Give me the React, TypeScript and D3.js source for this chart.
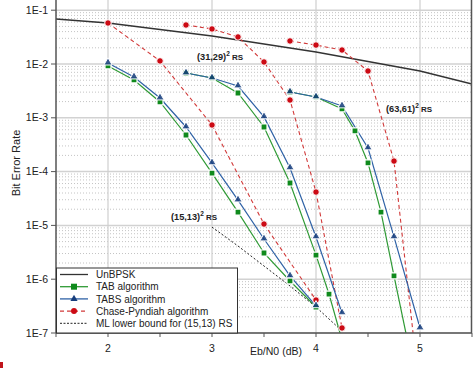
import React, { useEffect, useRef } from 'react';
import * as d3 from 'd3';

// x axis
const xTickValues = [2, 3, 4, 5];
const xMinorTicks = [1.5, 2.5, 3.5, 4.5, 5.5];
// y axis
const yTickValues = [1e-1, 1e-2, 1e-3, 1e-4, 1e-5, 1e-6, 1e-7];
const yTickLabels = ['1E-1', '1E-2', '1E-3', '1E-4', '1E-5', '1E-6', '1E-7'];

// uncoded BPSK
const unbpskX = [1.5, 2, 3, 4, 5, 5.5];
const unbpskY = [6.86e-2, 5.78e-2, 3.31e-2, 1.67e-2, 7.41e-3, 4.25e-3];

// (15,13)^2 RS
const tab15X = [2, 2.25, 2.5, 2.75, 3, 3.25, 3.5, 3.75, 4];
const tab15Y = [9.2e-3, 5.05e-3, 1.97e-3, 4.79e-4, 9.4e-5, 1.77e-5, 3.07e-6, 9.27e-7, 3.04e-7];
const tabs15X = [2, 2.25, 2.5, 2.75, 3, 3.25, 3.5, 3.75, 4];
const tabs15Y = [1.04e-2, 5.73e-3, 2.33e-3, 6.75e-4, 1.45e-4, 2.96e-5, 5.58e-6, 1.15e-6, 3.2e-7];
const chase15X = [2, 2.5, 3, 3.5, 4];
const chase15Y = [5.78e-2, 1.14e-2, 7.35e-4, 1.06e-5, 4.1e-7];
const mlX = [3, 3.25, 3.5, 3.75, 4, 4.25];
const mlY = [9.3e-6, 4.14e-6, 1.76e-6, 7.48e-7, 3.04e-7, 1.09e-7];

// (31,29)^2 RS
const tab31X = [2.75, 3, 3.25, 3.5, 3.75, 4, 4.125, 4.25];
const tab31Y = [6.8e-3, 5.5e-3, 2.89e-3, 6.75e-4, 6.14e-5, 2.8e-6, 5.3e-7, 7.4e-8];
const tabs31X = [2.75, 3, 3.25, 3.5, 3.75, 4, 4.25];
const tabs31Y = [6.8e-3, 5.5e-3, 3.9e-3, 1.04e-3, 1.17e-4, 6.1e-6, 2.36e-7];
const chase31X = [2.75, 3, 3.25, 3.5, 3.75, 4, 4.25];
const chase31Y = [5.31e-2, 4.48e-2, 3.18e-2, 1.09e-2, 2.14e-3, 4.17e-5, 1.24e-7];

// (63,61)^2 RS
const tab63X = [3.75, 4, 4.25, 4.375, 4.5, 4.625, 4.75, 4.875];
const tab63Y = [3.02e-3, 2.44e-3, 1.46e-3, 5.69e-4, 1.45e-4, 1.77e-5, 1.15e-6, 8e-8];
const tabs63X = [3.75, 4, 4.25, 4.5, 4.75, 5];
const tabs63Y = [3.02e-3, 2.44e-3, 1.66e-3, 2.75e-4, 6.1e-6, 1.24e-7];
const chase63X = [3.75, 4, 4.25, 4.5, 4.75, 5];
const chase63Y = [2.68e-2, 2.25e-2, 1.82e-2, 7.41e-3, 1.57e-4, 6.8e-9];

const legendLabels = ['UnBPSK', 'TAB algorithm', 'TABS algorithm', 'Chase-Pyndiah algorithm', 'ML lower bound for (15,13)  RS'];

const GREEN = '#2f9a35';
const GREEN_MK = '#0f8a1c';
const BLUE = '#2f62a6';
const BLUE_MK = '#163d7c';
const RED = '#d23a3a';
const RED_MK = '#cc0a14';

const zip = (xs: number[], ys: number[]) => xs.map((x, i) => [x, ys[i]] as [number, number]);

const Chart = () => {
    const svgRef = useRef<SVGSVGElement>(null);

    useEffect(() => {
        const svg = d3.select(svgRef.current);
        svg.selectAll('*').remove();
        const left = 56, right = 472, top = 0, bottom = 333;
        const font = 'Liberation Sans, Arial, sans-serif';

        const x = d3.scaleLinear().domain([1.5, 5.5]).range([left, right]);
        const y = d3.scaleLog().domain([1e-7, 1e-1]).range([bottom, 10.2]);

        svg.append('defs').append('clipPath').attr('id', 'plot')
            .append('rect').attr('x', left).attr('y', top).attr('width', right - left).attr('height', bottom - top);

        // minor dotted grid
        const grid = svg.append('g');
        const minor: number[] = [];
        for (let e = -7; e <= -1; e++) for (let k = 2; k <= 9; k++) minor.push(k * Math.pow(10, e));
        grid.selectAll('.minor').data(minor.filter(v => y(v) >= top)).join('line')
            .attr('x1', left).attr('x2', right)
            .attr('y1', d => y(d)).attr('y2', d => y(d))
            .attr('stroke', '#c4c4c4').attr('stroke-width', 1).attr('stroke-dasharray', '1,2');
        grid.selectAll('.hmaj').data(yTickValues).join('line')
            .attr('x1', left).attr('x2', right)
            .attr('y1', d => y(d)).attr('y2', d => y(d))
            .attr('stroke', '#d2d2d2').attr('stroke-width', 1.5);
        grid.selectAll('.vmaj').data(xTickValues).join('line')
            .attr('x1', d => x(d)).attr('x2', d => x(d))
            .attr('y1', top).attr('y2', bottom)
            .attr('stroke', '#cfcfcf').attr('stroke-width', 1.2);

        const line = d3.line<[number, number]>().x(d => x(d[0])).y(d => y(d[1]));
        const plot = svg.append('g').attr('clip-path', 'url(#plot)');

        const addLine = (pts: [number, number][], color: string, width: number, dash: string | null) => {
            plot.append('path').datum(pts).attr('d', line)
                .attr('fill', 'none').attr('stroke', color).attr('stroke-width', width)
                .attr('stroke-dasharray', dash);
        };
        const square = d3.symbol().type(d3.symbolSquare).size(36);
        const tri = d3.symbol().type(d3.symbolTriangle).size(30);
        const addMarks = (pts: [number, number][], kind: string) => {
            const g = plot.append('g');
            const vis = pts.filter(d => d[1] >= 1e-7);
            if (kind === 'square') {
                g.selectAll('path').data(vis).join('path').attr('d', square)
                    .attr('transform', d => `translate(${x(d[0])},${y(d[1])})`)
                    .attr('fill', GREEN_MK).attr('stroke', '#fff').attr('stroke-width', 1.2);
            } else if (kind === 'tri') {
                g.selectAll('path').data(vis).join('path').attr('d', tri)
                    .attr('transform', d => `translate(${x(d[0])},${y(d[1]) - 0.5})`)
                    .attr('fill', BLUE_MK).attr('fill-opacity', 0.85).attr('stroke', '#fff').attr('stroke-width', 1);
            } else {
                g.selectAll('circle').data(vis).join('circle')
                    .attr('cx', d => x(d[0])).attr('cy', d => y(d[1])).attr('r', 3.3)
                    .attr('fill', RED_MK).attr('stroke', '#fff').attr('stroke-width', 1);
            }
        };

        addLine(zip(unbpskX, unbpskY), '#333', 1.4, null);
        addLine(zip(mlX, mlY), '#222', 1, '2,2');

        const groups = [
            [zip(tab15X, tab15Y), zip(tabs15X, tabs15Y), zip(chase15X, chase15Y)],
            [zip(tab31X, tab31Y), zip(tabs31X, tabs31Y), zip(chase31X, chase31Y)],
            [zip(tab63X, tab63Y), zip(tabs63X, tabs63Y), zip(chase63X, chase63Y)],
        ];
        groups.forEach(([tab, tabs, chase]) => {
            addLine(chase, RED, 1.1, '4,3');
            addLine(tab, GREEN, 1.2, null);
            addLine(tabs, BLUE, 1.2, null);
        });
        groups.forEach(([tab, tabs, chase]) => {
            addMarks(chase, 'circle');
            addMarks(tab, 'square');
            addMarks(tabs, 'tri');
        });

        // frame & axes
        const ax = svg.append('g').attr('stroke', '#555');
        ax.append('line').attr('x1', left).attr('x2', left).attr('y1', top).attr('y2', bottom).attr('stroke-width', 1.5);
        ax.append('line').attr('x1', right - 0.5).attr('x2', right - 0.5).attr('y1', top).attr('y2', bottom).attr('stroke-width', 1.5);
        ax.append('line').attr('x1', left).attr('x2', right).attr('y1', bottom).attr('y2', bottom).attr('stroke-width', 1.5);
        ax.selectAll('.yt').data(yTickValues).join('line')
            .attr('x1', left - 5).attr('x2', left).attr('y1', d => y(d)).attr('y2', d => y(d)).attr('stroke-width', 1);
        ax.selectAll('.xt').data([...xTickValues, ...xMinorTicks]).join('line')
            .attr('x1', d => x(d)).attr('x2', d => x(d)).attr('y1', bottom).attr('y2', bottom + 4).attr('stroke-width', 1);

        svg.append('g').selectAll('text').data(yTickValues).join('text')
            .attr('x', left - 8).attr('y', d => y(d) + 3.6).attr('text-anchor', 'end')
            .attr('font-family', font).attr('font-size', 10.5).attr('fill', '#222')
            .text((d, i) => yTickLabels[i]);
        svg.append('g').selectAll('text').data(xTickValues).join('text')
            .attr('x', d => x(d)).attr('y', bottom + 19).attr('text-anchor', 'middle')
            .attr('font-family', font).attr('font-size', 10.5).attr('fill', '#222')
            .text(d => String(d));

        svg.append('text').attr('x', 276).attr('y', 355).attr('text-anchor', 'middle')
            .attr('font-family', font).attr('font-size', 10.5).attr('fill', '#222').text('Eb/N0  (dB)');
        svg.append('text').attr('transform', 'translate(20,163) rotate(-90)').attr('text-anchor', 'middle')
            .attr('font-family', font).attr('font-size', 11).attr('fill', '#222').text('Bit Error Rate');

        // annotations
        const note = (px: number, py: number, label: string) => {
            const t = svg.append('text').attr('x', px).attr('y', py)
                .attr('font-family', font).attr('font-weight', 'bold').attr('font-size', 9.2).attr('fill', '#222');
            t.append('tspan').text(label);
            t.append('tspan').attr('dy', -4).attr('font-size', 6.5).text('2');
            t.append('tspan').attr('dy', 4).attr('font-size', 8).text(' RS');
        };
        note(197, 60, '(31,29)');
        note(386, 112, '(63,61)');
        note(171, 220, '(15,13)');

        // legend
        const lg = svg.append('g');
        lg.append('rect').attr('x', 56.5).attr('y', 268).attr('width', 181).attr('height', 65)
            .attr('fill', '#fff').attr('stroke', '#333').attr('stroke-width', 1);
        const rows = legendLabels.map((l, i) => ({ l, i, yy: 274.5 + i * 12.2 }));
        rows.forEach(({ l, i, yy }) => {
            const stroke = ['#333', GREEN, BLUE, RED, '#222'][i];
            const dash = [null, null, null, '4,3', '2,1.5'][i];
            lg.append('line').attr('x1', 60).attr('x2', 88).attr('y1', yy).attr('y2', yy)
                .attr('stroke', stroke).attr('stroke-width', i === 4 ? 1 : 1.3).attr('stroke-dasharray', dash);
            if (i === 1) lg.append('path').attr('d', square).attr('transform', `translate(74,${yy})`).attr('fill', GREEN_MK);
            if (i === 2) lg.append('path').attr('d', d3.symbol().type(d3.symbolTriangle).size(22)).attr('transform', `translate(74,${yy})`).attr('fill', BLUE_MK);
            if (i === 3) lg.append('circle').attr('cx', 74).attr('cy', yy).attr('r', 3).attr('fill', RED_MK);
            lg.append('text').attr('x', 96).attr('y', yy + 3.6)
                .attr('font-family', font).attr('font-size', 10).attr('fill', '#222').text(l);
        });

        // stray mark at lower left edge of the figure
        svg.append('rect').attr('x', 0).attr('y', 362).attr('width', 3).attr('height', 6).attr('fill', '#c0141c');
    }, []);

    return <svg ref={svgRef} width={474} height={368} style={{ position: 'absolute', left: 0, top: 0, background: '#fff' }} />;
};

export default function App() {
    return <Chart />;
}
